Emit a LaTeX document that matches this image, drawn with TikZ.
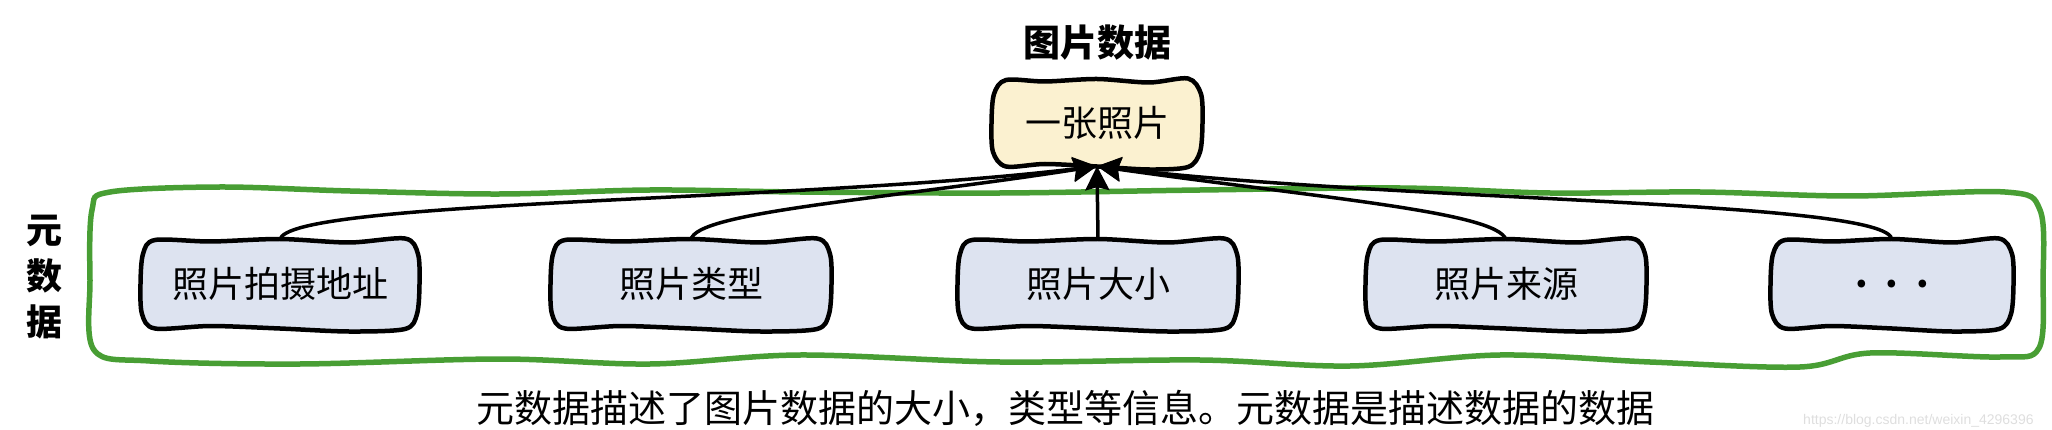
\documentclass[tikz,border=0pt]{standalone}
\usepackage{fontspec}
\setmainfont{Noto Sans CJK SC}
\newfontfamily\wmfont{Liberation Sans}
\usetikzlibrary{arrows.meta}
\definecolor{gboxc}{RGB}{72,158,52}
\definecolor{topfill}{RGB}{251,241,208}
\definecolor{botfill}{RGB}{221,227,240}
% wobbly rounded box: #1 position, #2 half width, #3 half height, #4 fill
\newcommand\wobbox[4]{%
  \filldraw[fill=#4, boxline, shift={#1}] plot[smooth cycle, tension=0.5] coordinates {
    (-#2+13,-#3) (-#2*0.5,-#3+1.5) (0,-#3-1) (#2*0.5,-#3+2.5) (#2-13,-#3-1.5)
    (#2,-#3+14) (#2+1.5,0) (#2-1,#3-14)
    (#2-13,#3+1) (#2*0.5,#3+3.5) (0,#3+0.5) (-#2*0.5,#3-2) (-#2+13,#3+0.5)
    (-#2,#3-14) (-#2-1.5,0) (-#2+1,-#3+14)};}
\begin{document}
\begin{tikzpicture}[x=1pt,y=-1pt,
  boxline/.style={draw=black, line width=4.5pt, line join=round},
  boxtext/.style={inner sep=0pt, font=\fontsize{36}{40}\selectfont},
  link/.style={line width=3.5pt, -{Stealth[length=24pt,width=24pt,inset=3pt]}},
  greenline/.style={draw=gboxc, line width=5.5pt}]
\useasboundingbox (0,0) rectangle (2052,430);

% green wavy container
\draw[greenline] plot[smooth cycle, tension=0.55] coordinates {
  (110,192) (220,187) (350,191) (500,194) (650,190) (800,192) (1000,193)
  (1200,190) (1400,188) (1550,193) (1700,192) (1850,196) (2005,192)
  (2040,210) (2043,280) (2039,348)
  (2000,357) (1870,353) (1800,367) (1650,362) (1500,355) (1350,366)
  (1200,360) (1000,362) (800,355) (650,364) (500,359) (300,364) (150,361)
  (94,350) (90,280) (92,210)};

% title and boxes
\node[font=\fontsize{37}{40}\selectfont\bfseries] (title) at (1097,43) {图片数据};

\wobbox{(1097,123)}{104}{43}{topfill}
\node[boxtext, minimum width=208pt, minimum height=86pt] (photo) at (1097,123) {一张照片};

\wobbox{(280,284)}{138}{44}{botfill}
\node[boxtext, minimum width=276pt, minimum height=88pt] (m1) at (280,284) {照片拍摄地址};
\wobbox{(691,284)}{139}{44}{botfill}
\node[boxtext, minimum width=278pt, minimum height=88pt] (m2) at (691,284) {照片类型};
\wobbox{(1098,284)}{139}{44}{botfill}
\node[boxtext, minimum width=278pt, minimum height=88pt] (m3) at (1098,284) {照片大小};
\wobbox{(1506,284)}{139}{44}{botfill}
\node[boxtext, minimum width=278pt, minimum height=88pt] (m4) at (1506,284) {照片来源};
\wobbox{(1892,284)}{120}{44}{botfill}
\node[boxtext, minimum width=240pt, minimum height=88pt] (m5) at (1892,284) {\textbf{.\hspace{18pt}.\hspace{18pt}.}};

\node[font=\fontsize{36}{46}\selectfont\bfseries, align=center] (meta) at (45,277) {元\\数\\据};

\node[font=\fontsize{38}{40}\selectfont] (cap) at (1065,408) {元数据描述了图片数据的大小，类型等信息。元数据是描述数据的数据};

\node[anchor=base west, inner sep=0pt, font=\wmfont\fontsize{14}{16}\selectfont, text=black!13] (wm) at (1803,424) {https://blog.csdn.net/weixin\_4296396};

% connectors
\draw[link] (m1.north) .. controls (285,200) and (800,202) .. (photo.south);
\draw[link] (m2.north) .. controls (695,212) and (880,200) .. (photo.south);
\draw[link] (m3.north) -- (photo.south);
\draw[link] (m4.north) .. controls (1498,212) and (1320,198) .. (photo.south);
\draw[link] (m5.north) .. controls (1890,200) and (1400,202) .. (photo.south);
\end{tikzpicture}
\end{document}
